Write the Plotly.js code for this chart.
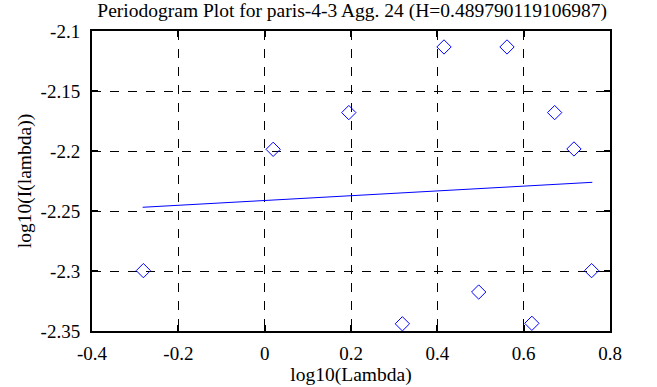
<!DOCTYPE html>
<html>
<head>
<meta charset="utf-8">
<script src="https://cdn.plot.ly/plotly-3.0.1.min.js"></script>
<style>html,body{margin:0;padding:0;background:#fff;}#chart{width:657px;height:387px;}</style>
</head>
<body>
<div id="chart"></div>
<script>
const pointsX = [-0.281, 0.0197, 0.1949, 0.3190, 0.4155, 0.4958, 0.5614, 0.6190, 0.6718, 0.7165, 0.7574];
const pointsY = [-2.2997, -2.1986, -2.1680, -2.3440, -2.1133, -2.3175, -2.1133, -2.3436, -2.1680, -2.1983, -2.2997];
const fitX = [-0.2826, 0.759];
const fitY = [-2.2469, -2.2261];
const xTicks = [-0.4, -0.2, 0, 0.2, 0.4, 0.6, 0.8];
const xTickText = ['-0.4', '-0.2', '0', '0.2', '0.4', '0.6', '0.8'];
const yTicks = [-2.35, -2.3, -2.25, -2.2, -2.15, -2.1];
const yTickText = ['-2.35', '-2.3', '-2.25', '-2.2', '-2.15', '-2.1'];

const fam = 'Liberation Serif, Times New Roman, serif';
const tickFont = {family: fam, size: 19, color: '#000'};
const titleFont = {family: fam, size: 19.5, color: '#000'};
const axisCommon = {
  showline: true, linecolor: '#000', linewidth: 2, mirror: 'ticks',
  ticks: 'inside', ticklen: 6, tickwidth: 2, tickcolor: '#000',
  showgrid: true, gridcolor: '#000', griddash: 'dash', gridwidth: 1,
  zeroline: false, tickfont: tickFont
};
const data = [
  {x: pointsX, y: pointsY, type: 'scatter', mode: 'markers',
   marker: {symbol: 'diamond-open', size: 11, color: '#0000ff', line: {width: 1, color: '#0000ff'}}},
  {x: fitX, y: fitY, type: 'scatter', mode: 'lines', line: {color: '#0000ff', width: 1}}
];
const layout = {
  width: 657, height: 387,
  margin: {l: 92, r: 47, t: 31, b: 56},
  paper_bgcolor: '#fff', plot_bgcolor: '#fff',
  showlegend: false,
  font: tickFont,
  title: {text: 'Periodogram Plot for paris-4-3 Agg. 24 (H=0.489790119106987)', font: titleFont, x: 0.536, xanchor: 'center', y: 0.975, yanchor: 'middle'},
  xaxis: Object.assign({}, axisCommon, {range: [-0.4, 0.8], tickvals: xTicks, ticktext: xTickText,
    ticklabelstandoff: 4,
    title: {text: 'log10(Lambda)', font: titleFont, standoff: 2}}),
  yaxis: Object.assign({}, axisCommon, {range: [-2.35, -2.1], tickvals: yTicks, ticktext: yTickText,
    ticklabelstandoff: 6,
    title: {text: 'log10(I(lambda))', font: titleFont, standoff: 4}})
};
Plotly.newPlot('chart', data, layout, {staticPlot: true, displayModeBar: false});
</script>
</body>
</html>
